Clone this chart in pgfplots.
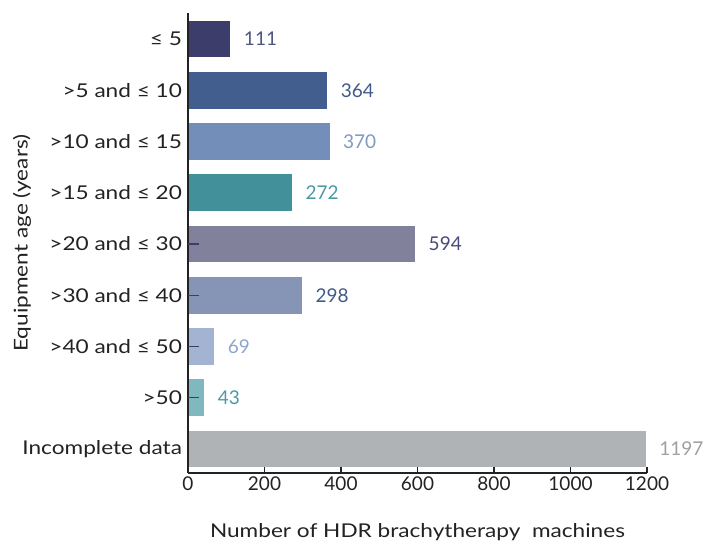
\documentclass[border=0pt]{standalone}
\usepackage{pgfplots}
\pgfplotsset{compat=1.18}
\usepackage{fontspec}
\setmainfont{Lato}[Numbers=Monospaced]
\newfontfamily\widefont{Lato}[FakeStretch=1.19]
\definecolor{b1}{HTML}{3D3D6B}
\definecolor{b2}{HTML}{425E8E}
\definecolor{b3}{HTML}{738FB9}
\definecolor{b4}{HTML}{42909A}
\definecolor{b5}{HTML}{81819C}
\definecolor{b6}{HTML}{8695B6}
\definecolor{b7}{HTML}{A3B4D2}
\definecolor{b8}{HTML}{80B8BF}
\definecolor{b9}{HTML}{B0B3B6}
\definecolor{l1}{HTML}{4E5483}
\definecolor{l2}{HTML}{3F5A8A}
\definecolor{l3}{HTML}{7F9AC0}
\definecolor{l4}{HTML}{4A9AA2}
\definecolor{l5}{HTML}{4A4A7A}
\definecolor{l7}{HTML}{8EA6CC}
\definecolor{l9}{HTML}{A0A0A0}
\definecolor{txt}{HTML}{222222}
\begin{document}
\begin{tikzpicture}
\begin{axis}[
  scale only axis, width=459pt, height=460pt,
  axis on top,
  xbar, bar width=0.72, y dir=reverse,
  xmin=0, xmax=1200, ymin=-0.507, ymax=8.468,
  axis x line*=bottom, axis y line*=left,
  axis line style={-, draw=txt},
  every outer y axis line/.append style={line width=1.6pt},
  every outer x axis line/.append style={line width=1.2pt},
  xtick={0,200,...,1200},
  x tick style={draw=txt, line width=1.2pt},
  tick align=inside, major tick length=6pt,
  ytick={0,...,8},
  yticklabels={{≤ 5},{>5 and ≤ 10},{>10 and ≤ 15},{>15 and ≤ 20},{>20 and ≤ 30},{>30 and ≤ 40},{>40 and ≤ 50},{>50},{Incomplete data}},
  y tick style={draw=none},
  x tick label style={font=\fontsize{19}{22}\selectfont, text=txt},
  y tick label style={font=\widefont\fontsize{19}{22}\selectfont, text=txt, xshift=-2.5pt},
  /pgf/number format/assume math mode=true,
  /pgf/number format/1000 sep={},
  xlabel={Number of HDR brachytherapy\ \ machines},
  ylabel={Equipment age (years)},
  label style={font=\widefont\fontsize{19}{22}\selectfont, text=txt},
  xlabel style={at={(axis description cs:0.5,0)}, anchor=base, yshift=-64pt},
  ylabel style={at={(axis description cs:-0.3617,0.5)}, anchor=center},
  nodes near coords,
  every node near coord/.append style={anchor=west, xshift=10pt, font=\fontsize{19}{22}\selectfont},
]
\addplot[fill=b1, draw=none, bar shift=0pt, every node near coord/.append style={text=l1}] coordinates {(111,0)};
\addplot[fill=b2, draw=none, bar shift=0pt, every node near coord/.append style={text=l2}] coordinates {(364,1)};
\addplot[fill=b3, draw=none, bar shift=0pt, every node near coord/.append style={text=l3}] coordinates {(370,2)};
\addplot[fill=b4, draw=none, bar shift=0pt, every node near coord/.append style={text=l4}] coordinates {(272,3)};
\addplot[fill=b5, draw=none, bar shift=0pt, every node near coord/.append style={text=l5}] coordinates {(594,4)};
\addplot[fill=b6, draw=none, bar shift=0pt, every node near coord/.append style={text=l2}] coordinates {(298,5)};
\addplot[fill=b7, draw=none, bar shift=0pt, every node near coord/.append style={text=l7}] coordinates {(69,6)};
\addplot[fill=b8, draw=none, bar shift=0pt, every node near coord/.append style={text=l4}] coordinates {(43,7)};
\addplot[fill=b9, draw=none, bar shift=0pt, every node near coord/.append style={text=l9}] coordinates {(1197,8)};
\end{axis}
\begin{axis}[
  scale only axis, width=459pt, height=460pt,
  y dir=reverse,
  xmin=0, xmax=1200, ymin=-0.507, ymax=8.468,
  hide x axis,
  axis y line*=left,
  y axis line style={draw=none},
  ytick={4,5,6,7}, yticklabels={},
  tick align=inside, major tick length=11pt,
  y tick style={draw=b1, line width=1.4pt},
]
\end{axis}
\path (current axis.south west) ++(-188pt,-67pt) rectangle ++(707pt,540pt);
\end{tikzpicture}
\end{document}
